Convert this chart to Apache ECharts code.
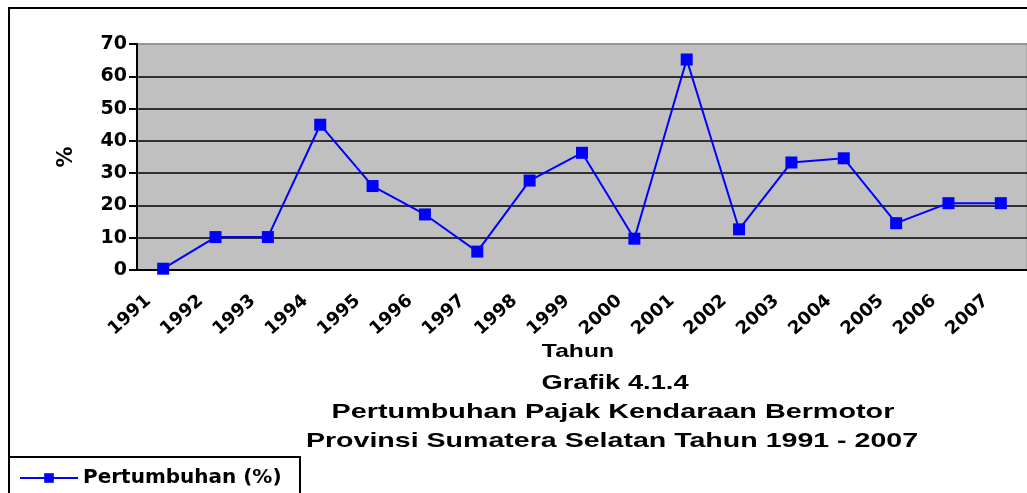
<!DOCTYPE html>
<html>
<head>
<meta charset="utf-8">
<script src="https://cdn.jsdelivr.net/npm/echarts@6/dist/echarts.min.js"></script>
<style>
  html, body { margin: 0; padding: 0; background: #fff; }
  #main { width: 1027px; height: 493px; }
</style>
</head>
<body>
<div id="main"></div>
<script>
// data
var years = ['1991', '1992', '1993', '1994', '1995', '1996', '1997', '1998', '1999',
             '2000', '2001', '2002', '2003', '2004', '2005', '2006', '2007'];
var growth = [0.4, 10.2, 10.2, 45.0, 26.0, 17.2, 5.7, 27.7, 36.3,
              9.7, 65.2, 12.6, 33.3, 34.6, 14.5, 20.7, 20.7];
var titleLines = ['Grafik 4.1.4',
                  'Pertumbuhan Pajak Kendaraan Bermotor',
                  'Provinsi Sumatera Selatan Tahun 1991 - 2007'];

var myChart = echarts.init(document.getElementById('main'));

function label(text, x, y, size, sx) {
    return {
        type: 'text',
        x: x, y: y,
        scaleX: sx,
        z: 10,
        style: {
            text: text,
            x: 0, y: 0,
            fill: '#000',
            font: 'bold ' + size + 'px "Liberation Sans", Arial, sans-serif',
            align: 'center', verticalAlign: 'middle',
            textAlign: 'center', textVerticalAlign: 'middle'
        }
    };
}

var option = {
    animation: false,
    backgroundColor: '#fff',
    grid: {
        left: 137, top: 44, right: -6, bottom: 223,
        show: true,
        backgroundColor: '#c0c0c0',
        borderColor: '#999',
        borderWidth: 1
    },
    legend: {
        left: 19, top: 468,
        padding: 0,
        itemWidth: 58, itemHeight: 12,
        itemGap: 6,
        textStyle: { color: '#000', fontWeight: 'bold', fontSize: 20, fontFamily: 'DejaVu Sans' },
        data: ['Pertumbuhan (%)']
    },
    xAxis: {
        type: 'category',
        data: years,
        axisLine: { lineStyle: { color: '#000', width: 2 } },
        axisTick: { length: 6, lineStyle: { color: '#000', width: 2 } },
        axisLabel: {
            rotate: 42,
            interval: 0,
            margin: 15,
            padding: [0, 20, 0, 0],
            color: '#000',
            fontWeight: 'bold',
            fontSize: 18,
            fontFamily: 'DejaVu Sans'
        }
    },
    yAxis: {
        type: 'value',
        min: 0, max: 70, interval: 10,
        name: '%',
        nameLocation: 'middle',
        nameGap: 60,
        nameTextStyle: { color: '#000', fontWeight: 'bold', fontSize: 21, fontFamily: 'DejaVu Sans' },
        axisLine: { show: true, lineStyle: { color: '#000', width: 2 } },
        axisTick: { show: true, length: 8, lineStyle: { color: '#000', width: 2 } },
        axisLabel: { margin: 10, color: '#000', fontWeight: 'bold', fontSize: 19, fontFamily: 'DejaVu Sans' },
        splitLine: {
            lineStyle: {
                color: ['#000', '#000', '#000', '#000', '#000', '#000', '#000', '#888'],
                width: 1.5
            }
        }
    },
    graphic: [
        { type: 'rect', z: 0, shape: { x: 9, y: 8, width: 1040, height: 520 },
          style: { fill: 'none', stroke: '#000', lineWidth: 2 } },
        { type: 'rect', z: 1, shape: { x: 9, y: 457, width: 291, height: 50 },
          style: { fill: '#fff', stroke: '#000', lineWidth: 2 } },
        label('Tahun', 578, 352, 19, 1.3),
        label(titleLines[0], 615, 383, 21, 1.3),
        label(titleLines[1], 613, 412, 21, 1.37),
        label(titleLines[2], 612, 441, 21, 1.36)
    ],
    series: [
        {
            name: 'Pertumbuhan (%)',
            type: 'line',
            data: growth,
            symbol: 'rect',
            symbolSize: 12,
            lineStyle: { color: '#0000ff', width: 2 },
            itemStyle: { color: '#0000ff' }
        }
    ]
};
myChart.setOption(option);
</script>
</body>
</html>
